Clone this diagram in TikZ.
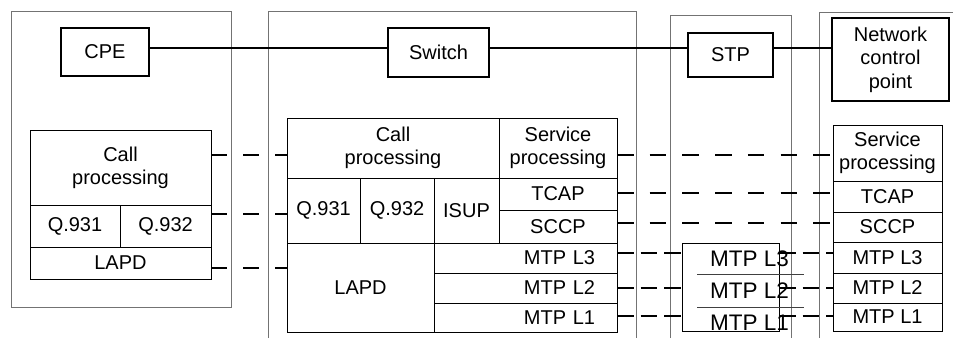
\documentclass[tikz,border=0pt]{standalone}
\usepackage{fontspec}
\setmainfont{Liberation Sans}
\begin{document}
\begin{tikzpicture}[x=1pt,y=-1pt,
  panel/.style={draw=black!55, line width=1pt},
  unit/.style={draw, line width=1.8pt, inner sep=0pt, outer sep=0pt, align=center,
    font=\fontsize{20}{23.5}\selectfont},
  cell/.style={draw, line width=0.9pt, inner sep=0pt, outer sep=0pt, align=center,
    font=\fontsize{20}{23}\selectfont},
  rcell/.style={cell, inner xsep=22pt, text width=139pt, align=right},
  bigtext/.style={inner sep=0pt, font=\fontsize{22.5}{26}\selectfont},
  link/.style={line width=1.8pt},
  peer/.style={line width=2pt, dash pattern=on 16pt off 16pt},
  peerwide/.style={line width=2pt, dash pattern=on 16.5pt off 16.2pt},
  peershort/.style={line width=2pt, dash pattern=on 16.5pt off 7pt}
]
\useasboundingbox (0,0) rectangle (953,338);

% equipment panels
\draw[panel] (11,11) rectangle (231,307);
\draw[panel] (268,338) -- (268,11) -- (636,11) -- (636,338);
\draw[panel] (670,338) -- (670,15) -- (791,15) -- (791,338);
\draw[panel] (953,12) -- (819,12) -- (819,338);

% network elements
\node[unit, minimum width=88pt, minimum height=48pt] (cpe) at (105,52) {CPE};
\node[unit, minimum width=101pt, minimum height=49pt] (switch) at (438.5,52.5) {Switch};
\node[unit, minimum width=85pt, minimum height=44pt] (stp) at (730.5,55) {STP};
\node[unit, minimum width=117pt, minimum height=83pt] (ncp) at (890.5,59.5) {Network\\control\\point};

\coordinate (bus) at (0,48);
\draw[link] (cpe.east |- bus) -- (switch.west |- bus);
\draw[link] (switch.east |- bus) -- (stp.west |- bus);
\draw[link] (stp.east |- bus) -- (ncp.west |- bus);

% CPE protocol stack
\node[cell, minimum width=181pt, minimum height=75pt] (cpcall) at (120.5,167.5) {Call\\processing};
\node[cell, minimum width=90pt, minimum height=42pt] (cpq931) at (75,226) {Q.931};
\node[cell, minimum width=91pt, minimum height=42pt] (cpq932) at (165.5,226) {Q.932};
\node[cell, minimum width=181pt, minimum height=32pt] (cplapd) at (120.5,263) {LAPD};

% switch protocol stack
\node[cell, minimum width=212pt, minimum height=60pt] (swcall) at (393,148) {Call\\processing};
\node[cell, minimum width=118pt, minimum height=60pt] (swsvc) at (558,148) {Service\\processing};
\node[cell, minimum width=73pt, minimum height=65pt] (swq931) at (323.5,210.5) {Q.931};
\node[cell, minimum width=74pt, minimum height=65pt] (swq932) at (397,210.5) {Q.932};
\node[cell, minimum width=65pt, minimum height=65pt] (swisup) at (466.5,210.5) {ISUP};
\node[cell, minimum width=118pt, minimum height=32pt] (swtcap) at (558,194) {TCAP};
\node[cell, minimum width=118pt, minimum height=33pt] (swsccp) at (558,226.5) {SCCP};
\node[cell, minimum width=147pt, minimum height=89pt] (swlapd) at (360.5,287.5) {LAPD};
\node[rcell, minimum height=30pt] (swl3) at (525.5,258) {MTP L3};
\node[rcell, minimum height=30pt] (swl2) at (525.5,288) {MTP L2};
\node[rcell, minimum height=29pt] (swl1) at (525.5,317.5) {MTP L1};

% STP stack
\node[draw, line width=0.9pt, inner sep=0pt, outer sep=0pt,
  minimum width=97pt, minimum height=88pt] (stpstack) at (730.5,287) {};
\draw[line width=0.9pt, black!75] (697,274) -- (804,274);
\draw[line width=0.9pt, black!75] (697,307) -- (804,307);
\node[bigtext] (stpl3) at (749.5,259) {MTP L3};
\node[bigtext] (stpl2) at (749.5,291) {MTP L2};
\node[bigtext] (stpl1) at (749.5,323) {MTP L1};

% network control point stack
\node[cell, minimum width=109pt, minimum height=56pt] (ncsvc) at (887.5,153) {Service\\processing};
\node[cell, minimum width=109pt, minimum height=31pt] (nctcap) at (887.5,196.5) {TCAP};
\node[cell, minimum width=109pt, minimum height=30pt] (ncsccp) at (887.5,227) {SCCP};
\node[cell, minimum width=109pt, minimum height=31pt] (ncl3) at (887.5,257.5) {MTP L3};
\node[cell, minimum width=109pt, minimum height=30pt] (ncl2) at (887.5,288) {MTP L2};
\node[cell, minimum width=109pt, minimum height=28pt] (ncl1) at (887.5,317) {MTP L1};

% peer-to-peer relations
\coordinate (ya) at (0,155);
\coordinate (yb) at (0,214);
\coordinate (yc) at (0,268);
\coordinate (yd) at (0,193);
\coordinate (ye) at (0,223);
\coordinate (yf) at (0,253);
\coordinate (yg) at (0,288);
\coordinate (yh) at (0,316);

\draw[peer] (cpcall.east |- ya) -- (swcall.west |- ya);
\draw[peer] (cpq932.east |- yb) -- (swq931.west |- yb);
\draw[peer] (cplapd.east |- yc) -- (swlapd.west |- yc);

\draw[peerwide] (swsvc.east |- ya) -- (ncsvc.west |- ya);
\draw[peerwide] (swtcap.east |- yd) -- (nctcap.west |- yd);
\draw[peerwide] (swsccp.east |- ye) -- (ncsccp.west |- ye);

\draw[peershort] (swl3.east |- yf) -- (stpstack.west |- yf);
\draw[peershort] (swl2.east |- yg) -- (stpstack.west |- yg);
\draw[peershort] (swl1.east |- yh) -- (stpstack.west |- yh);
\draw[peershort] (stpstack.east |- yf) -- (ncl3.west |- yf);
\draw[peershort] (stpstack.east |- yg) -- (ncl2.west |- yg);
\draw[peershort] (stpstack.east |- yh) -- (ncl1.west |- yh);
\end{tikzpicture}
\end{document}
